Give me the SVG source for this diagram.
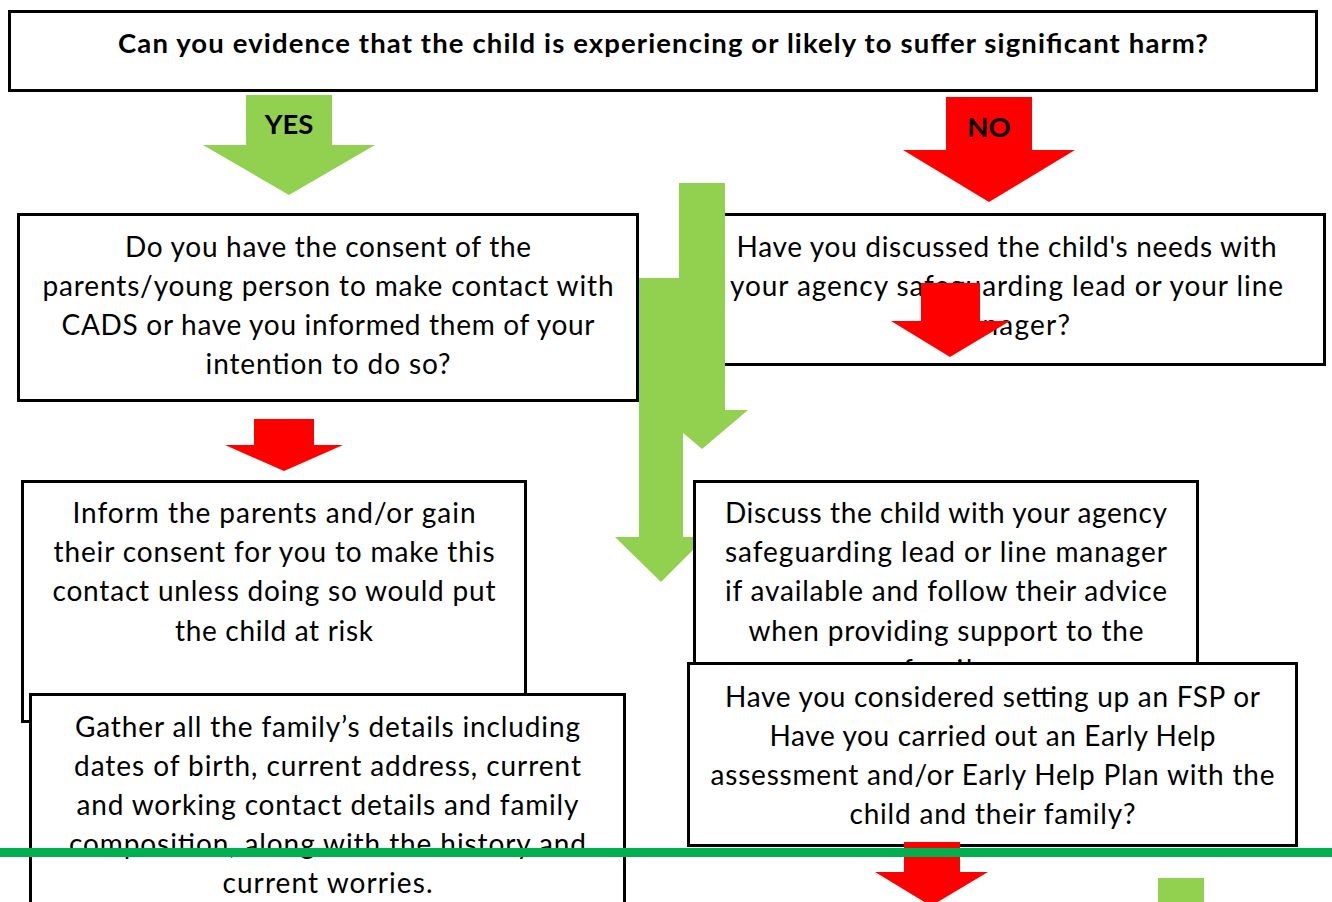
<svg xmlns="http://www.w3.org/2000/svg" width="1332" height="902" viewBox="0 0 1332 902">
<style>
.box{fill:#fff;stroke:#000;stroke-width:3}
.t{font-family:Lato,"Open Sans","Liberation Sans",sans-serif;font-size:28px;fill:#000;text-anchor:middle}
.b{font-family:Lato,"Open Sans","Liberation Sans",sans-serif;font-size:27.5px;font-weight:bold;fill:#000;text-anchor:middle}
.g{fill:#92D050}
.r{fill:#FF0000}
</style>
<rect width="1332" height="902" fill="#fff"/>
<g id="q-harm">
<rect class="box" x="9.5" y="11.5" width="1307" height="79"/>
<text class="b" x="663" y="53" textLength="1090">Can you evidence that the child is experiencing or likely to suffer significant harm?</text>
</g>
<g id="consent">
<rect class="box" x="18.5" y="214.5" width="619" height="186"/>
<text class="t" x="328" y="257" textLength="406">Do you have the consent of the</text>
<text class="t" x="328" y="296" textLength="571">parents/young person to make contact with</text>
<text class="t" x="328" y="335" textLength="533">CADS or have you informed them of your</text>
<text class="t" x="328" y="374" textLength="245">intention to do so?</text>
</g>
<g id="discussed">
<rect class="box" x="688.5" y="214.5" width="636" height="150"/>
<text class="t" x="1006.5" y="257" textLength="540">Have you discussed the child's needs with</text>
<text class="t" x="1006.5" y="296" textLength="553">your agency safeguarding lead or your line</text>
<text class="t" x="1006.5" y="335" textLength="127">manager?</text>
</g>
<g id="inform">
<rect class="box" x="22.5" y="481.5" width="503" height="240"/>
<text class="t" x="274" y="523" textLength="403">Inform the parents and/or gain</text>
<text class="t" x="274" y="562" textLength="441">their consent for you to make this</text>
<text class="t" x="274" y="601" textLength="443">contact unless doing so would put</text>
<text class="t" x="274" y="641" textLength="198">the child at risk</text>
</g>
<g id="gather">
<rect class="box" x="30.5" y="694.5" width="594" height="220"/>
<text class="t" x="327.5" y="737" textLength="505">Gather all the family’s details including</text>
<text class="t" x="327.5" y="776" textLength="507">dates of birth, current address, current</text>
<text class="t" x="327.5" y="815" textLength="502">and working contact details and family</text>
<text class="t" x="327.5" y="854" textLength="517">composition, along with the history and</text>
<text class="t" x="327.5" y="893" textLength="210">current worries.</text>
</g>
<g id="discuss">
<rect class="box" x="694.5" y="481.5" width="503" height="220"/>
<text class="t" x="946" y="523" textLength="442">Discuss the child with your agency</text>
<text class="t" x="946" y="562" textLength="442">safeguarding lead or line manager</text>
<text class="t" x="946" y="601" textLength="442">if available and follow their advice</text>
<text class="t" x="946" y="641" textLength="395">when providing support to the</text>
<text class="t" x="946" y="680" textLength="86">family</text>
</g>
<g id="early-help">
<rect class="box" x="688.5" y="663.5" width="608" height="182"/>
<text class="t" x="992.5" y="707" textLength="535">Have you considered setting up an FSP or</text>
<text class="t" x="992.5" y="746" textLength="446">Have you carried out an Early Help</text>
<text class="t" x="992.5" y="785" textLength="564">assessment and/or Early Help Plan with the</text>
<text class="t" x="992.5" y="824" textLength="286">child and their family?</text>
</g>
<g id="connectors">
<polygon class="g" points="246,95 332,95 332,145 375,145 289,195 203,145 246,145"/>
<text class="b" x="289" y="134">YES</text>
<polygon class="r" points="946,97 1032,97 1032,150 1075,150 989,202 903,150 946,150"/>
<text class="b" x="989" y="137">NO</text>
<polygon class="g" points="679,183 725,183 725,410 748,410 702,449 656,410 679,410"/>
<polygon class="g" points="639,278 683,278 683,537 693,537 693,550 661,582 615,537 639,537"/>
<polygon class="r" points="921,283 980,283 980,321 1010,321 950,357 891,321 921,321"/>
<polygon class="r" points="254,419 314,419 314,445 343,445 284,471 225,445 254,445"/>
<polygon class="r" points="904,842 960,842 960,872 988,872 931,906 875,872 904,872"/>
<rect class="g" x="1158" y="878" width="46" height="30"/>
<rect x="0" y="848" width="1332" height="9" fill="#00B050"/>
</g>
</svg>
